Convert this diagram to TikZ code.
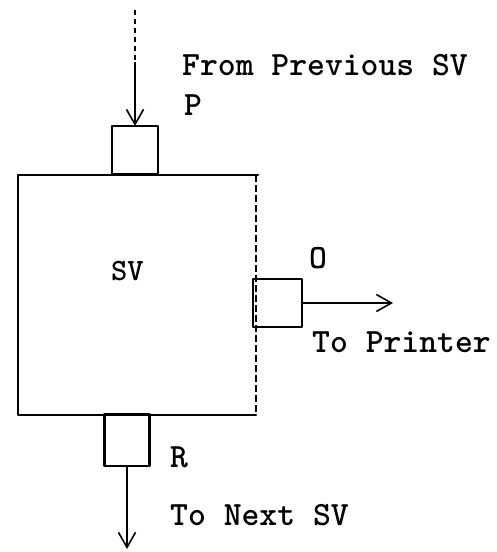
\documentclass[tikz,border=0pt]{standalone}
\usetikzlibrary{arrows.meta}
\begin{document}
\begin{tikzpicture}[x=1pt,y=-1pt,
  boxline/.style={line width=2.4pt, line cap=round, line join=round},
  faint/.style={line width=1.1pt, dash pattern=on 7pt off 3pt},
  portbox/.style={draw, boxline, inner sep=0pt, outer sep=0pt},
  arr/.style={line width=1.5pt, -{Straight Barb[length=15pt,width=17pt,line width=1.6pt]}},
  lbl/.style={inner sep=0pt, anchor=base west, font=\ttfamily\bfseries\fontsize{34}{38}\selectfont},
  svlbl/.style={inner sep=0pt, anchor=base west, font=\ttfamily\bfseries\fontsize{31}{34}\selectfont}]
\useasboundingbox (0,0) rectangle (496,552);

% main box
\node[inner sep=0pt, outer sep=0pt, minimum width=238pt, minimum height=240pt] (sv) at (137,295) {};
\draw[boxline] ([xshift=2pt]sv.north east) -- (sv.north west) -- (sv.south west) -- (sv.south east);
\draw[faint] (sv.north east) -- (sv.south east);

% ports
\node[portbox, minimum width=46pt, minimum height=48pt] (P) at (135,150) {};
\node[portbox, minimum width=49pt, minimum height=48pt] (O) at (277.5,303) {};
\node[portbox, minimum width=45pt, minimum height=52pt] (R) at (127,440) {};

% connectors
\coordinate (top) at (135,10);
\coordinate (mid) at (135,62);
\coordinate (printer) at (393,303);
\coordinate (next) at (127,549);
\draw[line width=1.1pt, dash pattern=on 5pt off 4pt] (top) -- (mid);
\draw[arr] (mid) -- (P.north);
\draw[arr] (O.east) -- (printer);
\draw[arr] (R.south) -- (next);

% labels
\node[lbl] (from) at (182,75) {From Previous SV};
\node[lbl] (plbl) at (184,115) {P};
\node[svlbl] (svlbl) at (111,280) {SV};
\node[lbl] (olbl) at (309,268) {O};
\node[lbl] (toprn) at (312,352) {To Printer};
\node[lbl] (rlbl) at (170,467) {R};
\node[lbl] (tonext) at (170,525) {To Next SV};
\end{tikzpicture}
\end{document}
